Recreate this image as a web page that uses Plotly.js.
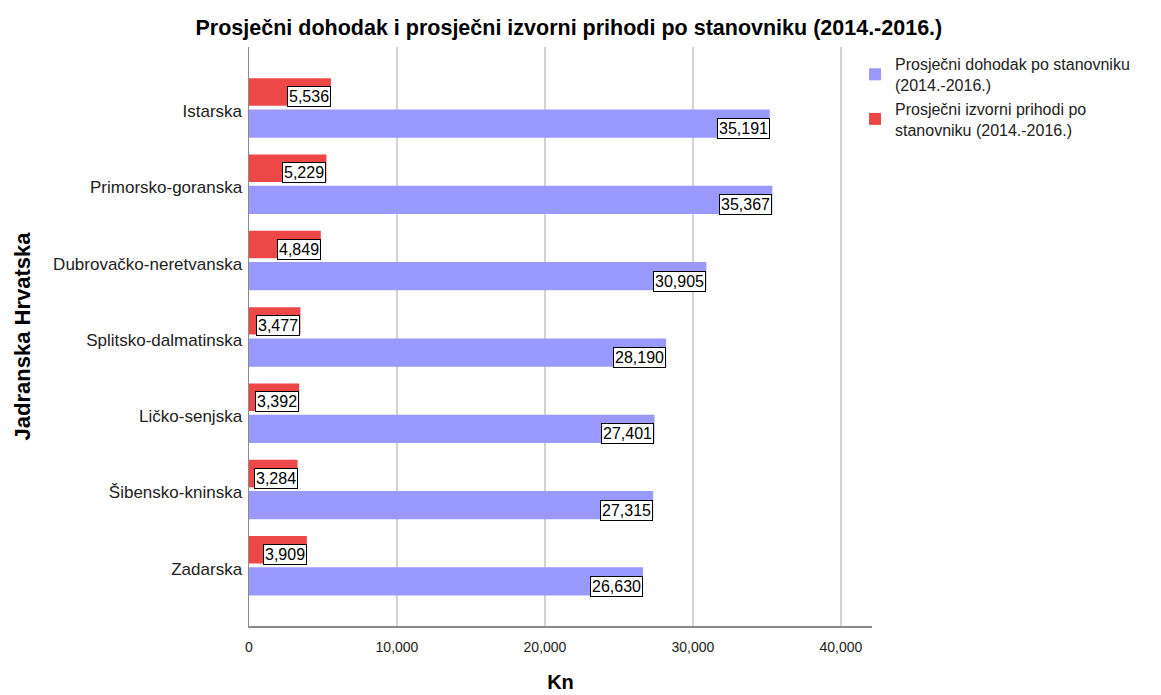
<!DOCTYPE html>
<html>
<head>
<meta charset="utf-8">
<script src="https://cdn.plot.ly/plotly-3.0.1.min.js"></script>
<style>html,body{margin:0;padding:0;background:#fff;}#chart{width:1161px;height:695px;}</style>
</head>
<body>
<div id="chart"></div>
<script>
const categories = ["Istarska", "Primorsko-goranska", "Dubrovačko-neretvanska", "Splitsko-dalmatinska", "Ličko-senjska", "Šibensko-kninska", "Zadarska"];
const dohodak = [35191, 35367, 30905, 28190, 27401, 27315, 26630];
const prihodi = [5536, 5229, 4849, 3477, 3392, 3284, 3909];
const seriesNames = ["Prosječni dohodak po stanovniku<br>(2014.-2016.)", "Prosječni izvorni prihodi po<br>stanovniku (2014.-2016.)"];
const xTicks = [0, 10000, 20000, 30000, 40000];
const xTickLabels = ["0", "10,000", "20,000", "30,000", "40,000"];

const FONT = "Liberation Sans, Arial, sans-serif";
const BLUE = "#9999ff";
const RED = "#ee4748";

const traces = [
  {
    type: "bar", orientation: "h", name: seriesNames[0],
    y: categories, x: dohodak,
    offset: -0.02, width: 0.37,
    marker: {color: BLUE},
    hoverinfo: "x"
  },
  {
    type: "bar", orientation: "h", name: seriesNames[1],
    y: categories, x: prihodi,
    offset: -0.43, width: 0.36,
    marker: {color: RED},
    hoverinfo: "x"
  }
];

const fmt = v => v.toLocaleString("en-US");
const annotations = [];
categories.forEach((c, i) => {
  annotations.push({
    x: prihodi[i], y: c, xref: "x", yref: "y",
    text: fmt(prihodi[i]), showarrow: false,
    xanchor: "right", yanchor: "bottom", yshift: 4,
    bgcolor: "#ffffff", bordercolor: "#000000", borderwidth: 1, borderpad: 1,
    font: {family: FONT, size: 16, color: "#000"}
  });
  annotations.push({
    x: dohodak[i], y: c, xref: "x", yref: "y",
    text: fmt(dohodak[i]), showarrow: false,
    xanchor: "right", yanchor: "bottom", yshift: -28,
    bgcolor: "#ffffff", bordercolor: "#000000", borderwidth: 1, borderpad: 1,
    font: {family: FONT, size: 16, color: "#000"}
  });
});

const layout = {
  width: 1161, height: 695,
  paper_bgcolor: "#ffffff", plot_bgcolor: "#ffffff",
  margin: {l: 249, r: 289, t: 47, b: 69},
  barmode: "overlay",
  font: {family: FONT, color: "#222"},
  title: {
    text: "<b>Prosječni dohodak i prosječni izvorni prihodi po stanovniku (2014.-2016.)</b>",
    font: {family: FONT, size: 21.5, color: "#000"},
    x: 0.49, xanchor: "center", y: 0.96, yanchor: "middle"
  },
  xaxis: {
    range: [0, 42100],
    tickvals: xTicks, ticktext: xTickLabels,
    showgrid: true, gridcolor: "#d2d2d2", gridwidth: 1.3,
    showline: true, linecolor: "#8a8a8a", linewidth: 1.5,
    zeroline: false,
    ticks: "outside", ticklen: 8, tickcolor: "rgba(0,0,0,0)",
    tickfont: {family: FONT, size: 14, color: "#222"},
    title: {text: "<b>Kn</b>", font: {family: FONT, size: 20, color: "#000"}, standoff: 20},
    fixedrange: true
  },
  yaxis: {
    type: "category",
    categoryarray: categories, categoryorder: "array",
    range: [6.75, -0.84],
    showgrid: false,
    showline: true, linecolor: "#8a8a8a", linewidth: 1.5,
    zeroline: false,
    ticks: "outside", ticklen: 2, tickcolor: "rgba(0,0,0,0)",
    tickfont: {family: FONT, size: 17, color: "#222"},
    title: {text: "<b>Jadranska Hrvatska</b>", font: {family: FONT, size: 22, color: "#000"}, standoff: 16},
    fixedrange: true
  },
  legend: {
    x: 0.9727, xref: "paper", xanchor: "left",
    y: 1.0, yanchor: "top",
    font: {family: FONT, size: 16, color: "#222"},
    itemwidth: 30, tracegroupgap: 2,
    bgcolor: "rgba(0,0,0,0)"
  },
  annotations: annotations,
  showlegend: true
};

Plotly.newPlot("chart", traces, layout, {displayModeBar: false, staticPlot: true});
</script>
</body>
</html>
